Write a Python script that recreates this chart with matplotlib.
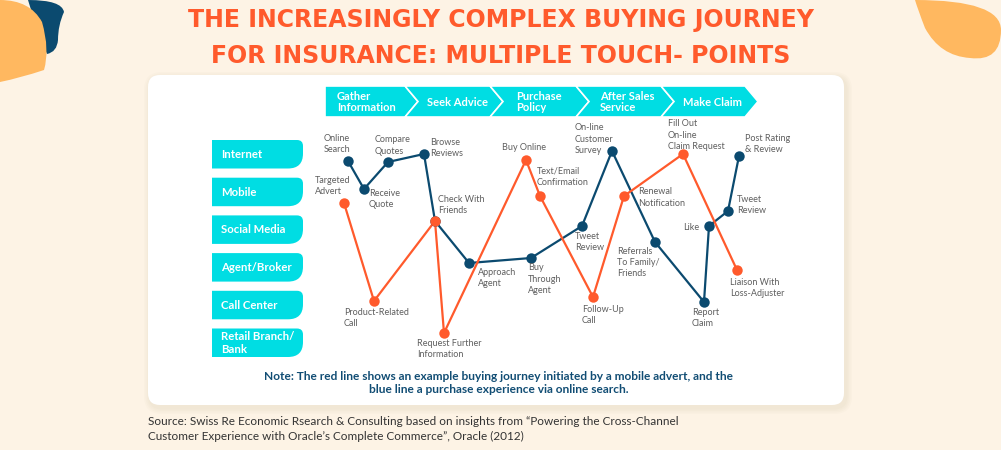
import matplotlib
matplotlib.use("Agg")
import matplotlib.pyplot as plt
from matplotlib.patches import Polygon, FancyBboxPatch, PathPatch
from matplotlib.path import Path

# ---- data (journey map, positions in picture units) ----
channels = ["Internet", "Mobile", "Social Media", "Agent/Broker", "Call Center", "Retail Branch/\nBank"]
stages = ["Gather\nInformation", "Seek Advice", "Purchase\nPolicy", "After Sales\nService", "Make Claim"]

blue_labels = ["Online\nSearch", "Receive\nQuote", "Compare\nQuotes", "Browse\nReviews", "Check With\nFriends",
               "Approach\nAgent", "Buy\nThrough\nAgent", "Tweet\nReview", "On-line\nCustomer\nSurvey",
               "Referrals\nTo Family/\nFriends", "Report\nClaim", "Like", "Tweet\nReview", "Post Rating\n& Review"]
blue_x = [348, 364, 388, 424, 435, 469, 531, 582, 612, 655, 704, 709, 728, 739]
blue_y = [161, 189, 162, 154, 221, 263, 258, 226, 151, 242, 302, 226, 211, 156]

red_labels = ["Targeted\nAdvert", "Product-Related\nCall", "Check With\nFriends", "Request Further\nInformation",
              "Buy Online", "Text/Email\nConfirmation", "Follow-Up\nCall", "Renewal\nNotification",
              "Fill Out\nOn-line\nClaim Request", "Liaison With\nLoss-Adjuster"]
red_x = [344, 374, 435, 444, 526, 540, 593, 624, 683, 737]
red_y = [203, 301, 221, 333, 160, 196, 297, 196, 154, 270]

title_lines = ["THE INCREASINGLY COMPLEX BUYING JOURNEY", "FOR INSURANCE: MULTIPLE TOUCH- POINTS"]
note = ("Note: The red line shows an example buying journey initiated by a mobile advert, and the\n"
        "blue line a purchase experience via online search.")
source = ("Source: Swiss Re Economic Rsearch & Consulting based on insights from \u201cPowering the Cross-Channel\n"
          "Customer Experience with Oracle\u2019s Complete Commerce\u201d, Oracle (2012)")

# ---- layout (label anchor points: x, y, horizontal alignment) ----
blue_lab_pos = [(324, 144, "left"), (369, 199, "left"), (375, 145.5, "left"), (430, 148, "left"),
                None, (478, 278, "left"), (528, 279, "left"), (575, 242, "left"), (575, 139, "left"),
                (617, 262.5, "left"), (692, 318, "left"), (699, 228, "right"), (737, 205, "left"),
                (745, 144, "left")]
red_lab_pos = [(315, 186, "left"), (344, 318, "left"), (438, 205, "left"), (417, 349, "left"),
               (502, 147, "left"), (537, 176.5, "left"), (582, 315, "left"), (638, 197.5, "left"),
               (668, 135, "left"), (730, 288, "left")]

BG = "#fdf3e5"
CYAN = "#00dde3"
BLUE = "#0b4a6f"
RED = "#ff5a2c"
ORANGE = "#ffb860"
GREY = "#5f5f5f"
FONT = "Lato"

fig = plt.figure(figsize=(10.01, 4.5), dpi=100)
fig.patch.set_facecolor(BG)
ax = fig.add_axes([0, 0, 1, 1])
ax.set_xlim(0, 1001)
ax.set_ylim(450, 0)
ax.axis("off")

# decorative blobs
def blob(pts, color, z=1):
	verts = [pts[0]]
	codes = [Path.MOVETO]
	for i in range(1, len(pts) - 1, 2):
		verts += [pts[i], pts[i + 1]]
		codes += [Path.CURVE3, Path.CURVE3]
	ax.add_patch(PathPatch(Path(verts, codes), fc=color, ec="none", zorder=z))

blob([(28, 0), (62, 0), (64, 12), (58, 25), (58, 40), (57, 52), (47, 54), (40, 40), (28, 0)], BLUE)
blob([(0, 0), (30, 0), (42, 22), (50, 50), (44, 70), (20, 78), (0, 82), (0, 40), (0, 0)], ORANGE, 2)
blob([(915, 0), (1001, 0), (1001, 30), (1001, 62), (970, 58), (940, 56), (925, 28), (918, 10), (915, 0)], ORANGE)

# title
for ty, line in zip([20, 56], title_lines):
	ax.text(501, ty, line, ha="center", va="center", fontsize=17, fontweight="bold",
		color=RED, family="DejaVu Sans", zorder=3)

# card with soft shadow
for k, a in enumerate([0.05, 0.05, 0.05, 0.06]):
	off = 6 - k * 1.5
	ax.add_patch(FancyBboxPatch((148 - off + 2, 75 - off + 3), 696 + 2 * off, 330 + 2 * off,
		boxstyle="round,pad=0,rounding_size=%g" % (12 + off), fc="#c8b9a0", ec="none", alpha=a, zorder=3))
ax.add_patch(FancyBboxPatch((148, 75), 696, 330, boxstyle="round,pad=0,rounding_size=12",
	fc="white", ec="none", zorder=4))

# stage chevrons
edges = [325, 405, 490, 576, 661, 745]
tip = 13
top, bot = 86, 117
mid = (top + bot) / 2
for i, name in enumerate(stages):
	x0, x1 = edges[i], edges[i + 1]
	pts = [(x0, top), (x1, top), (x1 + tip, mid), (x1, bot), (x0, bot)]
	if i > 0:
		pts.append((x0 + tip, mid))
	ax.add_patch(Polygon(pts, closed=True, fc=CYAN, ec="white", lw=1.2, zorder=5))
	tx = [337, 427, 516, 600, 683][i]
	ax.text(tx, mid + 0.5, name, ha="left", va="center", fontsize=8, fontweight="bold",
		color="white", family=FONT, linespacing=1.1, zorder=6)

# channel boxes
def tab(x0, y0, x1, y1):
	r1, r2 = 6, 15
	verts = [(x0, y0), (x1 - r1, y0), (x1, y0), (x1, y0 + r1), (x1, y1 - r2), (x1, y1), (x1 - r2, y1),
		(x0, y1), (x0, y0)]
	codes = [Path.MOVETO, Path.LINETO, Path.CURVE3, Path.CURVE3, Path.LINETO, Path.CURVE3, Path.CURVE3,
		Path.LINETO, Path.CLOSEPOLY]
	return PathPatch(Path(verts, codes), fc=CYAN, ec="none", zorder=5)

for i, ch in enumerate(channels):
	y0 = 140 + i * 37.7
	ax.add_patch(tab(212, y0, 303, y0 + 28.5))
	ax.text(221, y0 + 14.5, ch, ha="left", va="center", fontsize=8.2, fontweight="bold",
		color="white", family=FONT, linespacing=1.15, zorder=6)

# journey lines
ax.plot(blue_x, blue_y, color=BLUE, lw=1.6, zorder=7)
ax.plot(red_x, red_y, color=RED, lw=1.6, zorder=7)
ax.plot(blue_x, blue_y, "o", color=BLUE, ms=7.5, mec="none", zorder=8)
ax.plot(red_x, red_y, "o", color=RED, ms=7.5, mec="none", zorder=9)

for labels, pos in [(blue_labels, blue_lab_pos), (red_labels, red_lab_pos)]:
	for lab, p in zip(labels, pos):
		if p is None:
			continue
		ax.text(p[0], p[1], lab, ha=p[2], va="center", fontsize=6.5, color=GREY,
			family=FONT, linespacing=1.3, zorder=10)

# note and source
ax.text(499, 383, note, ha="center", va="center", fontsize=8.6, fontweight="bold",
	color="#114d74", family=FONT, linespacing=1.3, zorder=6)
ax.text(148, 429, source, ha="left", va="center", fontsize=8.5, color="#333333",
	family=FONT, linespacing=1.45, zorder=6)

fig.savefig("out.png", dpi=100, facecolor=BG)
